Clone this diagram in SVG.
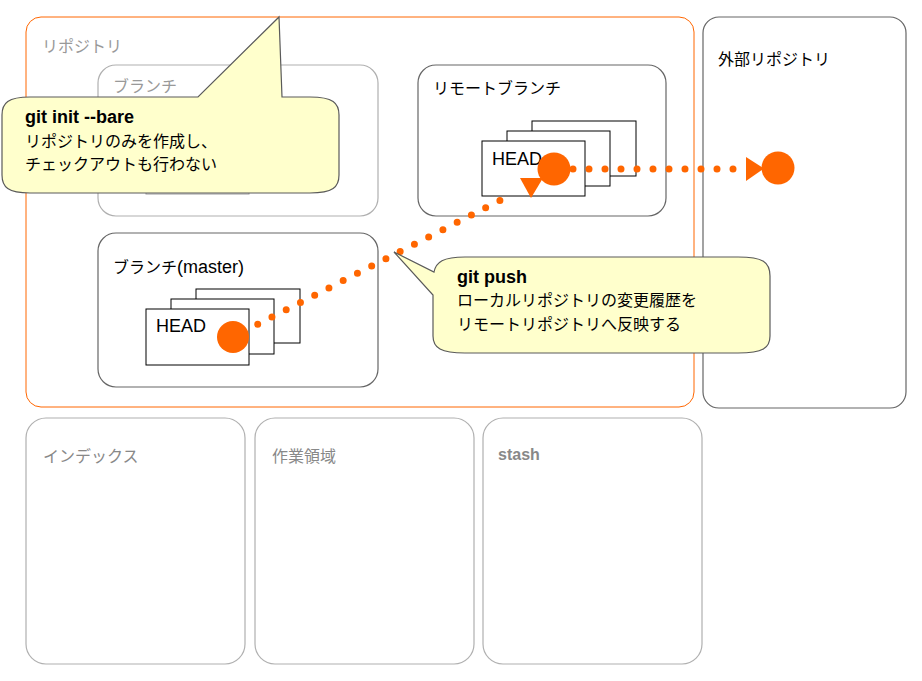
<svg xmlns="http://www.w3.org/2000/svg" width="922" height="681" viewBox="0 0 922 681">
<style>
text{font-family:"Liberation Sans","Noto Sans CJK JP",sans-serif;font-size:16px}
.lbl{fill:#000}
.lblg{fill:#999}
.lblb{fill:#888}
.box{fill:#fff;stroke:#666;stroke-width:1.2}
.boxg{fill:#fff;stroke:#b0b0b0;stroke-width:1.2}
.card{fill:#fff;stroke:#000;stroke-width:1}
.cardg{fill:#fff;stroke:#999;stroke-width:1}
.head{font-size:18px;fill:#000}
.dot{fill:none;stroke:#ff6600;stroke-width:7;stroke-linecap:round;stroke-dasharray:0 16}
.pt{fill:#ff6600}
.call{fill:#ffffcc;stroke:#5a5a5a;stroke-width:1.2}
.ct{font-size:16px;fill:#000}
.cb{font-size:18px;font-weight:bold;fill:#000}
</style>
<rect width="922" height="681" fill="#fff"/>
<g id="repository">
<rect x="26" y="17" width="668" height="390" rx="15" fill="#fff" stroke="#ff6600" stroke-width="1"/>
<text x="42" y="52" class="lblg">リポジトリ</text>
</g>
<g id="external-repository">
<rect x="703" y="17" width="203" height="391" rx="16" class="box"/>
<text x="718" y="65" class="lbl">外部リポジトリ</text>
</g>
<g id="branch">
<rect x="98" y="65" width="280" height="151" rx="18" class="boxg"/>
<text x="113" y="92" class="lblg">ブランチ</text>
<rect x="146" y="139" width="103" height="55" class="cardg"/>
</g>
<g id="remote-branch">
<rect x="418" y="65" width="248" height="151" rx="18" class="box"/>
<text x="433" y="94" class="lbl">リモートブランチ</text>
<rect x="532" y="121" width="104" height="55" class="card"/>
<rect x="507" y="131" width="103" height="55" class="card"/>
<rect x="482" y="141" width="103" height="55" class="card"/>
<text x="492" y="165" class="head">HEAD</text>
<circle cx="554" cy="169" r="16.5" class="pt"/>
</g>
<g id="branch-master">
<rect x="98" y="233" width="280" height="154" rx="18" class="box"/>
<text x="113" y="273" class="lbl">ブランチ<tspan font-size="18">(master)</tspan></text>
<rect x="196" y="289" width="104" height="54" class="card"/>
<rect x="171" y="299" width="103" height="55" class="card"/>
<rect x="146" y="309" width="103" height="56" class="card"/>
<text x="156" y="332" class="head">HEAD</text>
<circle cx="233" cy="337" r="16" class="pt"/>
</g>
<g id="external-head">
<circle cx="778" cy="168" r="16.5" class="pt"/>
</g>
<g id="index">
<rect x="26" y="418" width="219" height="246" rx="20" class="boxg"/>
<text x="43" y="462" class="lblb">インデックス</text>
</g>
<g id="workspace">
<rect x="255" y="418" width="219" height="246" rx="20" class="boxg"/>
<text x="272" y="462" class="lblb">作業領域</text>
</g>
<g id="stash">
<rect x="483" y="418" width="219" height="246" rx="20" class="boxg"/>
<text x="498" y="460" class="lblb" font-weight="bold">stash</text>
</g>
<g id="connectors">
<line x1="257.7" y1="324.3" x2="514" y2="193.3" class="dot"/>
<polygon points="520,178 543,178 531,198" class="pt"/>
<line x1="573" y1="169" x2="734" y2="169" class="dot"/>
<polygon points="746,157 746,181 764,168.5" class="pt"/>
</g>
<g id="callout-init">
<path class="call" d="M 30,97 L 198,97 L 279,17 L 282,97 L 310,97 C 333,97 339,103 339,115 L 339,175 C 339,187 333,193 310,193 L 30,193 C 8,193 2,187 2,175 L 2,115 C 2,103 8,97 30,97 Z"/>
<text x="25" y="123" class="cb">git init --bare</text>
<text x="25" y="147" class="ct">リポジトリのみを作成し、</text>
<text x="25" y="170" class="ct">チェックアウトも行わない</text>
</g>
<g id="callout-push">
<path class="call" d="M 465,257 L 738,257 C 763,257 770,262 770,276 L 770,336 C 770,348 763,353 738,353 L 465,353 C 441,353 433,348 433,336 L 433,295 L 394,252 L 434,272 C 436,262 443,257 465,257 Z"/>
<text x="457" y="283" class="cb">git push</text>
<text x="457" y="306" class="ct">ローカルリポジトリの変更履歴を</text>
<text x="457" y="330" class="ct">リモートリポジトリへ反映する</text>
</g>
</svg>
